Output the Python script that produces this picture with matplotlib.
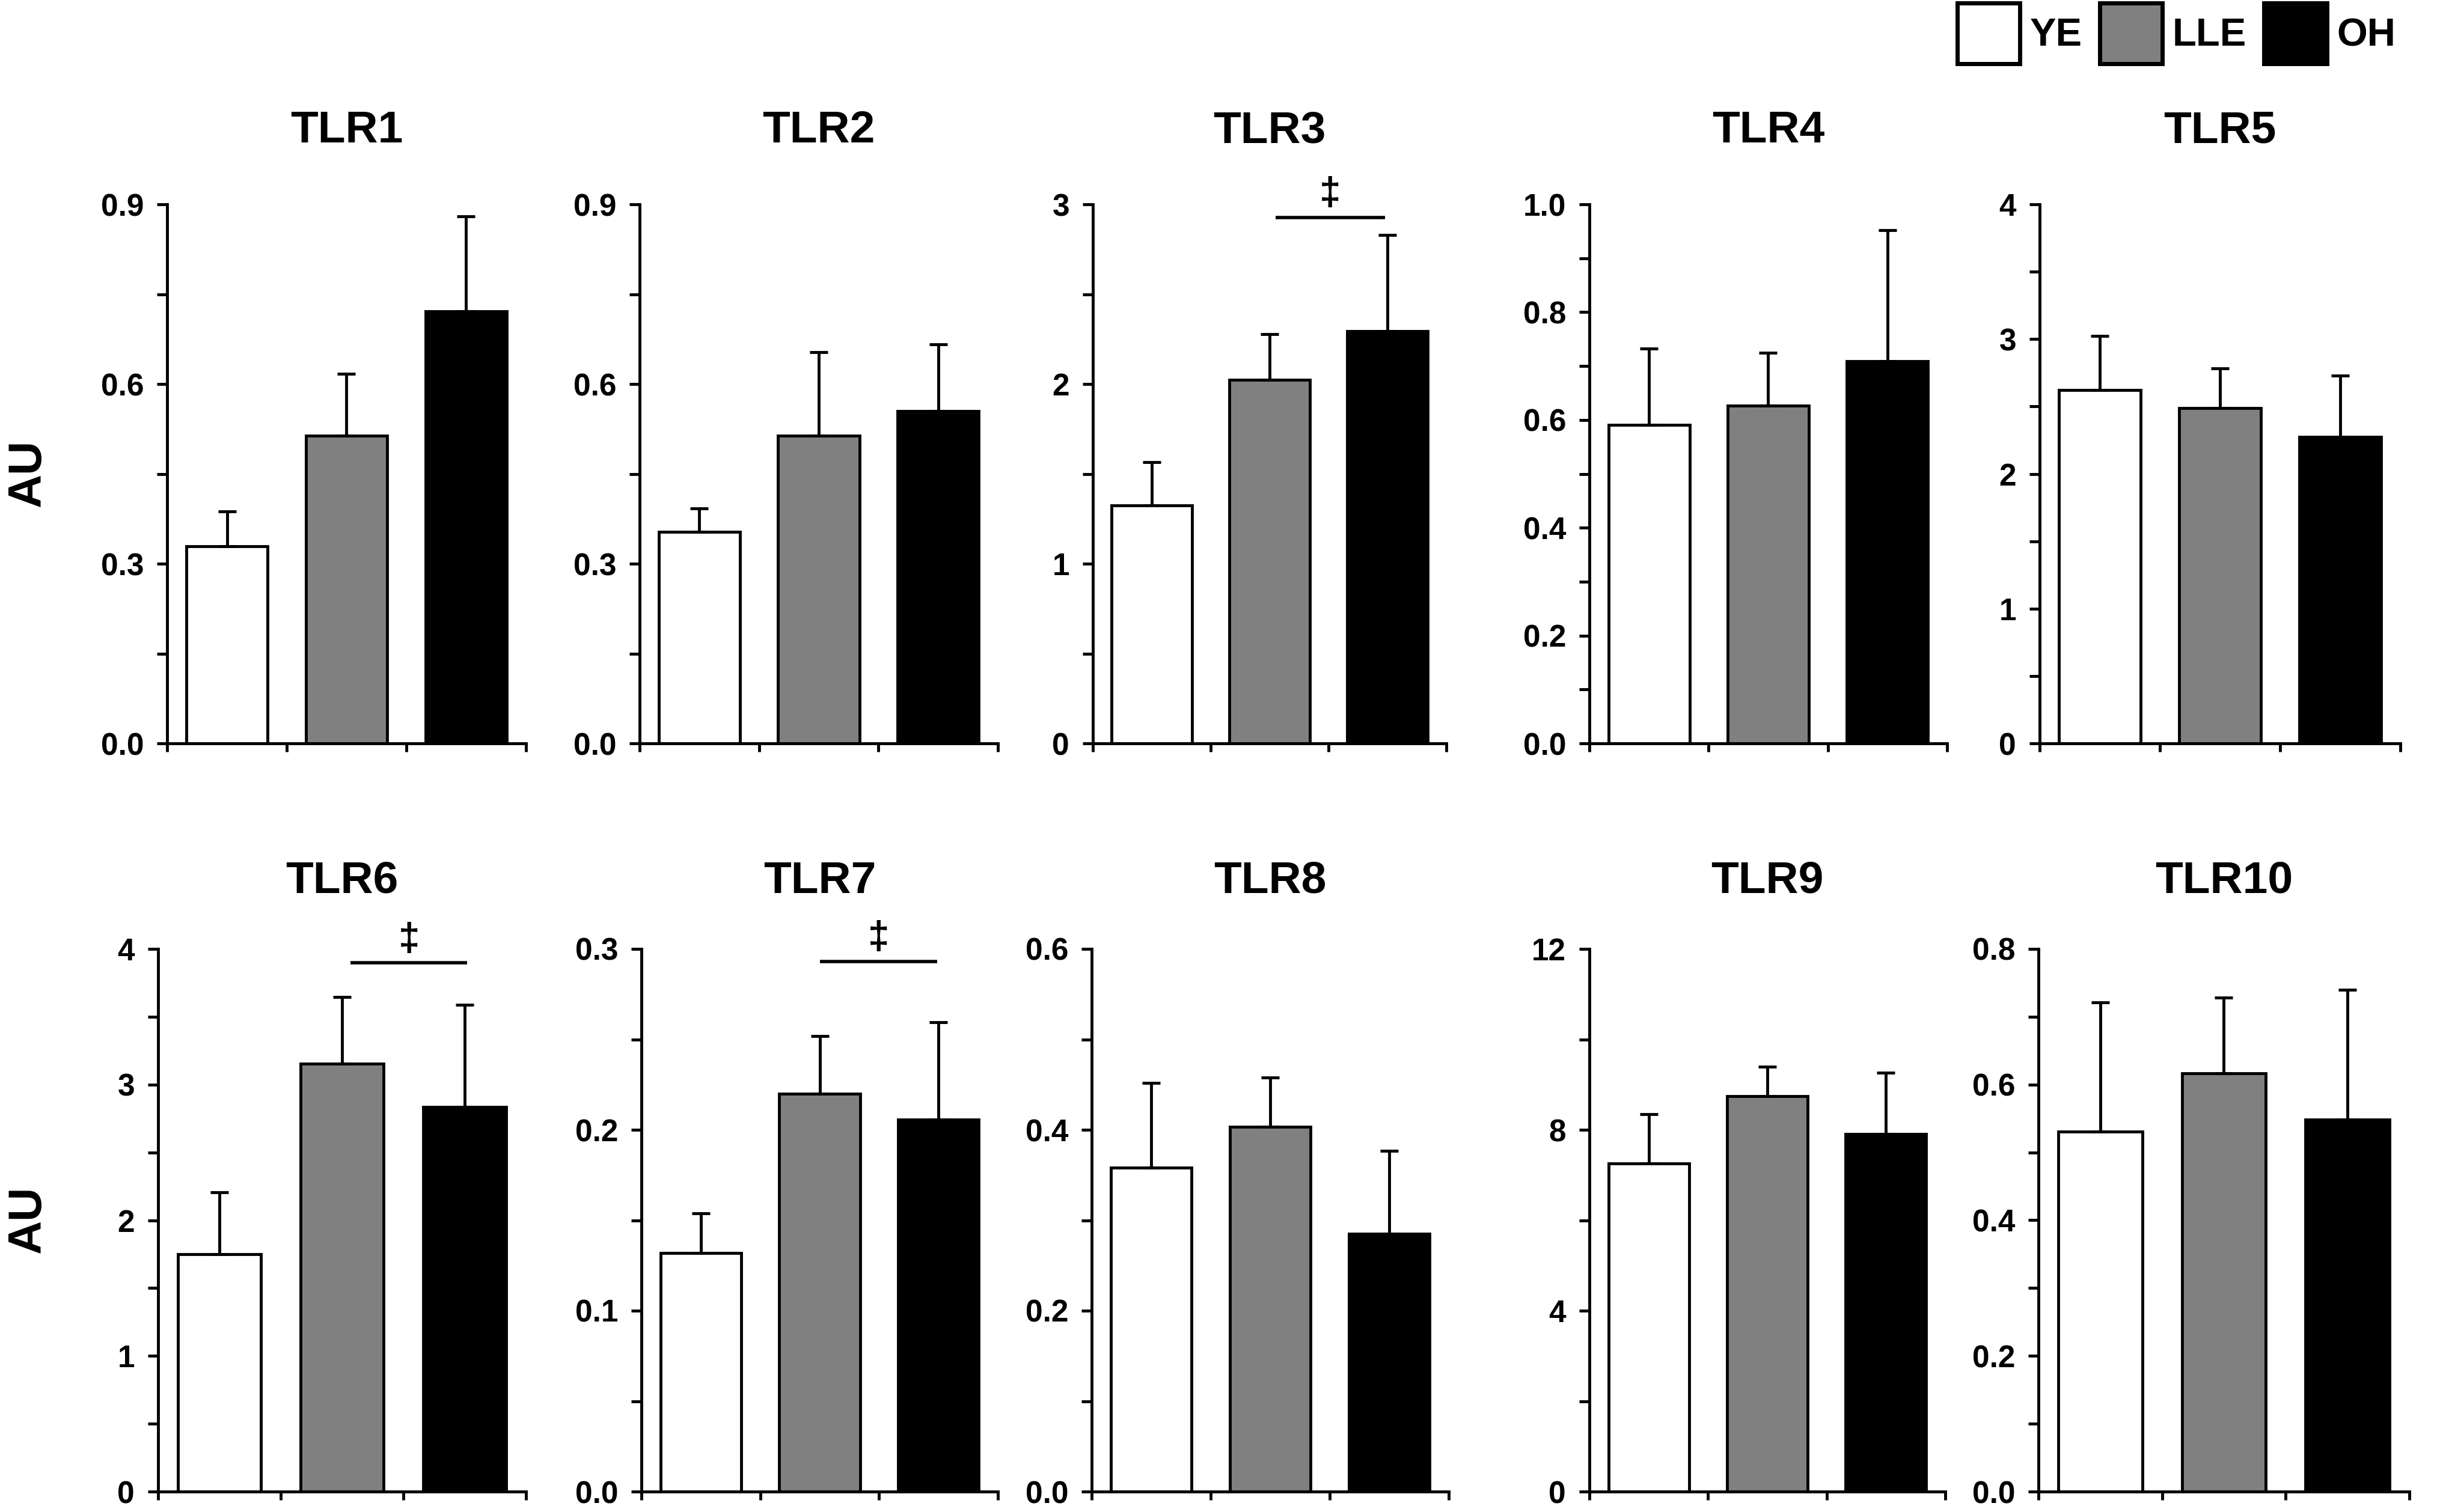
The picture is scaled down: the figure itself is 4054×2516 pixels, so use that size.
import matplotlib
matplotlib.use("Agg")
import matplotlib.pyplot as plt
from matplotlib.patches import Patch
from matplotlib.ticker import MultipleLocator, AutoMinorLocator, FormatStrFormatter

plt.rcParams['font.family'] = ['Liberation Sans', 'DejaVu Sans']
plt.rcParams['font.weight'] = 'bold'

# --- data ---
names = ["TLR1", "TLR2", "TLR3", "TLR4", "TLR5",
         "TLR6", "TLR7", "TLR8", "TLR9", "TLR10"]
groups = ["YE", "LLE", "OH"]
colors = ["white", "#808080", "black"]

ye_mean = [0.329, 0.353, 1.325, 0.591, 2.622, 1.749, 0.1318, 0.358, 7.257, 0.531]
lle_mean = [0.514, 0.514, 2.024, 0.627, 2.487, 3.156, 0.2200, 0.403, 8.746, 0.617]
oh_mean = [0.721, 0.555, 2.294, 0.709, 2.276, 2.836, 0.2055, 0.285, 7.910, 0.548]

ye_err = [0.058, 0.039, 0.241, 0.141, 0.400, 0.458, 0.0221, 0.094, 1.091, 0.190]
lle_err = [0.103, 0.139, 0.253, 0.098, 0.295, 0.490, 0.0318, 0.055, 0.654, 0.111]
oh_err = [0.159, 0.111, 0.537, 0.243, 0.452, 0.753, 0.0541, 0.092, 1.348, 0.192]

y_max = [0.9, 0.9, 3, 1.0, 4, 4, 0.3, 0.6, 12, 0.8]
y_step = [0.3, 0.3, 1, 0.2, 1, 1, 0.1, 0.2, 4, 0.2]
y_fmt = ["%.1f", "%.1f", "%.0f", "%.1f", "%.0f", "%.0f", "%.1f", "%.1f", "%.0f", "%.1f"]

# significance bars (LLE vs OH): panel index -> (x start, x end, y)
sig_panel = [2, 5, 6]
sig_x0 = [1.55, 1.57, 1.50]
sig_x1 = [2.48, 2.52, 2.49]
sig_y = [2.928, 3.896, 0.2929]

# --- layout (pixels in a 4055 x 2516 canvas) ---
W, H = 4055, 2516
left_px = [278, 1064, 1818, 2644, 3393, 263, 1067, 1816, 2644, 3391]
right_px = [875, 1660, 2406, 3239, 3993, 875, 1660, 2410, 3236, 4008]
row_top = [340, 1579]
row_bot = [1237, 2482]
lw = 3.5

fig = plt.figure(figsize=(W / 100, H / 100), dpi=100, facecolor="white")

x = [0.5, 1.5, 2.5]
for i, name in enumerate(names):
    r = i // 5
    ax = fig.add_axes([left_px[i] / W, 1 - row_bot[r] / H,
                       (right_px[i] - left_px[i]) / W, (row_bot[r] - row_top[r]) / H])
    means = [ye_mean[i], lle_mean[i], oh_mean[i]]
    errs = [ye_err[i], lle_err[i], oh_err[i]]
    ax.bar(x, means, width=0.68, color=colors, edgecolor="black", linewidth=lw, zorder=2)
    for k in range(3):
        ax.errorbar(x[k], means[k], yerr=[[0], [errs[k]]], fmt="none", ecolor="black",
                    elinewidth=lw, capsize=11, capthick=lw, zorder=3)

    ax.set_xlim(0, 3)
    ax.set_ylim(0, y_max[i])
    ax.set_xticks([0, 1, 2, 3])
    ax.yaxis.set_major_locator(MultipleLocator(y_step[i]))
    ax.yaxis.set_minor_locator(AutoMinorLocator(2))
    ax.yaxis.set_major_formatter(FormatStrFormatter(y_fmt[i]))
    for s in ["top", "right"]:
        ax.spines[s].set_visible(False)
    for s in ["left", "bottom"]:
        ax.spines[s].set_linewidth(lw)
    ax.tick_params(axis="y", which="both", direction="out", length=12, width=lw,
                   pad=16, labelsize=37)
    ax.tick_params(axis="x", which="major", direction="out", length=10, width=lw,
                   labelbottom=False)
    for lab in ax.get_yticklabels():
        lab.set_fontweight("bold")
    ax.set_title(name, fontsize=54, fontweight="bold", pad=74 if r == 0 else 67)

    if i in sig_panel:
        j = sig_panel.index(i)
        ax.plot([sig_x0[j], sig_x1[j]], [sig_y[j], sig_y[j]], color="black",
                linewidth=4, clip_on=False, solid_capstyle="butt")
        ax.annotate("\u2021", xy=((sig_x0[j] + sig_x1[j]) / 2, sig_y[j]),
                    xytext=(0, 28), textcoords="offset points", ha="center", va="center",
                    fontsize=46, fontweight="bold", annotation_clip=False)

# y-axis labels
fig.text(47 / W, 1 - 788 / H, "AU", rotation=90, ha="center", va="center",
         fontsize=56, fontweight="bold")
fig.text(47 / W, 1 - 2030 / H, "AU", rotation=90, ha="center", va="center",
         fontsize=56, fontweight="bold")

handles = [Patch(facecolor=c, edgecolor="black", linewidth=5) for c in colors]
fig.legend(handles, groups, loc="upper right", bbox_to_anchor=(3985 / W, 1 - 5 / H),
           ncol=3, frameon=False, prop={"size": 47, "weight": "bold"},
           handlelength=1.6, handleheight=2.0, handletextpad=0.25,
           columnspacing=0.45, borderpad=0, borderaxespad=0)

plt.savefig("out.png", dpi=100, facecolor="white")
